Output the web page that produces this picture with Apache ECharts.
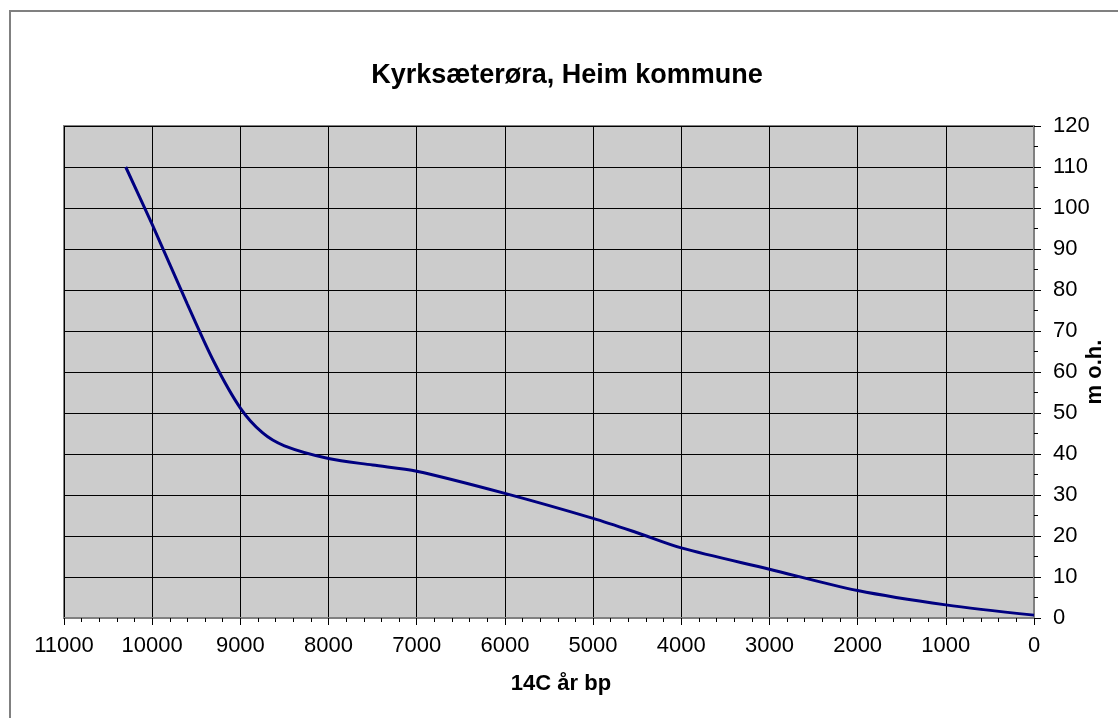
<!DOCTYPE html>
<html>
<head>
<meta charset="utf-8">
<title>Kyrksæterøra, Heim kommune</title>
<script src="https://cdn.jsdelivr.net/npm/echarts@6/dist/echarts.min.js"></script>
<style>
  html, body { margin: 0; padding: 0; background: #fff; }
  #chart { width: 1118px; height: 718px; }
</style>
</head>
<body>
<div id="chart"></div>
<script>
// ages (14C år bp) and heights (m o.h.)
const years = [10300, 10000, 9600, 9300, 9000, 8750, 8500, 8000, 7500, 7000, 6000, 5000, 4500, 4000, 3000, 2000, 1000, 0]
const heights = [110, 96, 76.5, 62.5, 51.2, 45.2, 42, 38.9, 37.3, 35.8, 30.4, 24.3, 20.8, 17.1, 11.9, 6.7, 3.2, 0.7]

const titleText = 'Kyrksæterøra, Heim kommune'
const xName = '14C år bp'
const yName = 'm o.h.'

const font = '"Liberation Sans", Arial, sans-serif'
const chart = echarts.init(document.getElementById('chart'))

const option = {
  animation: false,
  backgroundColor: '#fff',
  textStyle: { fontFamily: font, color: '#000' },
  title: {
    text: titleText,
    left: 562,
    textAlign: 'center',
    top: 57,
    textStyle: { fontFamily: font, fontSize: 27, fontWeight: 'bold', color: '#000' }
  },
  graphic: [
    {
      type: 'rect',
      shape: { x: 10, y: 11, width: 1300, height: 900 },
      style: { fill: 'none', stroke: '#808080', lineWidth: 2 },
      silent: true
    }
  ],
  grid: {
    left: 64,
    right: 84,
    top: 126,
    bottom: 100,
    outerBoundsMode: 'none',
    containLabel: false,
    show: true,
    backgroundColor: '#cccccc',
    borderColor: '#808080',
    borderWidth: 2
  },
  xAxis: {
    type: 'value',
    inverse: true,
    min: 0,
    max: 11000,
    interval: 1000,
    name: xName,
    nameLocation: 'middle',
    nameGap: 55,
    nameMoveOverlap: false,
    nameTextStyle: { fontFamily: font, fontSize: 22, fontWeight: 'bold', color: '#000', padding: [0, 0, 0, 24] },
    axisLine: { show: true, onZero: false, lineStyle: { color: '#808080', width: 2 } },
    axisTick: { show: true, length: 7, lineStyle: { color: '#000', width: 1 } },
    minorTick: { show: true, splitNumber: 5, length: 4, lineStyle: { color: '#000', width: 1 } },
    axisLabel: { fontFamily: font, fontSize: 22, color: '#000', margin: 17, formatter: v => String(v) },
    splitLine: { show: true, lineStyle: { color: '#000', width: 1 } }
  },
  yAxis: {
    type: 'value',
    position: 'right',
    min: 0,
    max: 120,
    interval: 10,
    name: yName,
    nameLocation: 'middle',
    nameRotate: 90,
    nameGap: 50,
    nameMoveOverlap: false,
    nameTextStyle: { fontFamily: font, fontSize: 22, fontWeight: 'bold', color: '#000' },
    axisLine: { show: true, onZero: false, lineStyle: { color: '#808080', width: 2 } },
    axisTick: { show: true, length: 7, lineStyle: { color: '#000', width: 1 } },
    minorTick: { show: true, splitNumber: 2, length: 4, lineStyle: { color: '#000', width: 1 } },
    axisLabel: { fontFamily: font, fontSize: 22, color: '#000', margin: 19, formatter: v => String(v) },
    splitLine: { show: true, lineStyle: { color: '#000', width: 1 } }
  },
  series: [
    {
      type: 'line',
      data: years.map((y, i) => [y, heights[i]]),
      smooth: 0.3,
      showSymbol: false,
      lineStyle: { color: '#000080', width: 3 },
      itemStyle: { color: '#000080' }
    }
  ]
}

chart.setOption(option)
</script>
</body>
</html>
